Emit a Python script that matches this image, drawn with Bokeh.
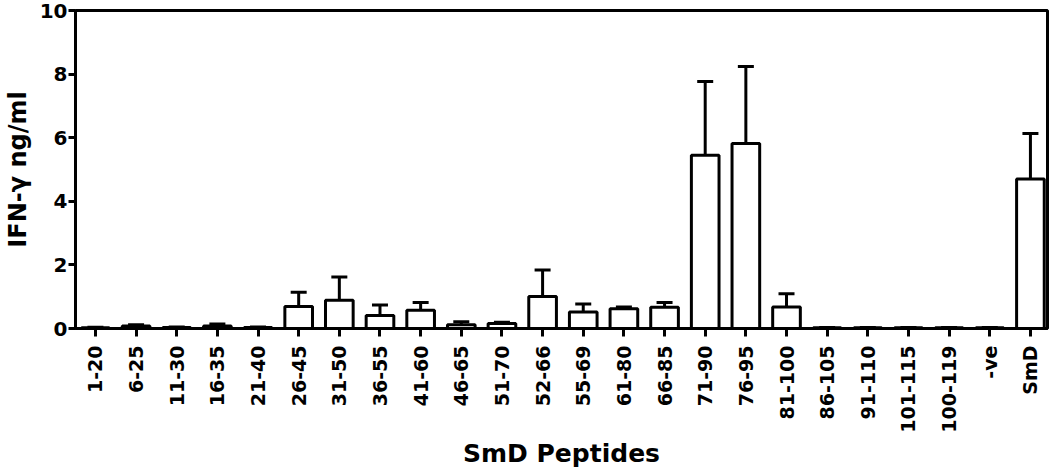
import math
from bokeh.plotting import figure
from bokeh.models import Range1d, FixedTicker, ColumnDataSource, Whisker, TeeHead
from bokeh.embed import file_html
from bokeh.resources import INLINE

categories = ["1-20", "6-25", "11-30", "16-35", "21-40", "26-45", "31-50", "36-55",
              "41-60", "46-65", "51-70", "52-66", "55-69", "61-80", "66-85", "71-90",
              "76-95", "81-100", "86-105", "91-110", "101-115", "100-119", "-ve", "SmD"]
means = [0.02, 0.08, 0.03, 0.08, 0.03, 0.69, 0.89, 0.41, 0.57, 0.12, 0.16, 1.01,
         0.52, 0.62, 0.67, 5.45, 5.82, 0.68, 0.02, 0.02, 0.02, 0.02, 0.02, 4.70]
errors = [0.02, 0.04, 0.02, 0.06, 0.02, 0.45, 0.73, 0.33, 0.25, 0.09, 0.04, 0.83,
          0.25, 0.06, 0.15, 2.32, 2.42, 0.41, 0.01, 0.01, 0.01, 0.01, 0.01, 1.43]
y_ticks = [0, 2, 4, 6, 8, 10]

FONT = "DejaVu Sans"

xs = list(range(len(categories)))
src = ColumnDataSource(dict(
    x=xs, top=means, upper=[m + e for m, e in zip(means, errors)], cat=categories))

p = figure(width=1050, height=470, output_backend="svg", toolbar_location=None,
           title=None,
           x_range=Range1d(-0.49, 23.42), y_range=Range1d(0, 10),
           min_border_top=10, min_border_right=3, min_border_left=0, min_border_bottom=0)

p.background_fill_color = "white"
p.border_fill_color = "white"
p.outline_line_color = "black"
p.outline_line_width = 3
p.outline_line_alpha = 1
p.xgrid.visible = False
p.ygrid.visible = False

wh = Whisker(source=src, base="x", lower="top", upper="upper",
             line_color="black", line_width=3,
             upper_head=TeeHead(size=16, line_color="black", line_width=3),
             lower_head=None)
p.add_layout(wh)

p.vbar(x="x", top="top", bottom=0, width=0.68, source=src,
       fill_color="white", line_color="black", line_width=3)

# y axis
ya = p.yaxis[0]
ya.ticker = FixedTicker(ticks=y_ticks)
ya.axis_line_width = 3
ya.major_tick_line_width = 3
ya.major_tick_out = 7
ya.major_tick_in = 0
ya.minor_tick_out = 0
ya.minor_tick_in = 0
ya.major_label_text_font = FONT
ya.major_label_text_font_style = "bold"
ya.major_label_text_font_size = "20px"
ya.major_label_text_color = "black"
ya.major_label_standoff = 1
ya.axis_label = "IFN-\u03b3 ng/ml"
ya.axis_label_text_font = FONT
ya.axis_label_text_font_style = "bold"
ya.axis_label_text_font_size = "24px"
ya.axis_label_text_color = "black"
ya.axis_label_standoff = 5

# x axis
xa = p.xaxis[0]
xa.ticker = FixedTicker(ticks=xs)
xa.major_label_overrides = {i: c for i, c in enumerate(categories)}
xa.major_label_orientation = math.pi / 2
xa.axis_line_width = 3
xa.major_tick_line_width = 3
xa.major_tick_out = 8
xa.major_tick_in = 0
xa.minor_tick_out = 0
xa.minor_tick_in = 0
xa.major_label_text_font = FONT
xa.major_label_text_font_style = "bold"
xa.major_label_text_font_size = "19px"
xa.major_label_text_color = "black"
xa.major_label_standoff = 9
xa.axis_label = "SmD Peptides"
xa.axis_label_text_font = FONT
xa.axis_label_text_font_style = "bold"
xa.axis_label_text_font_size = "25px"
xa.axis_label_text_color = "black"
xa.axis_label_standoff = 3

open("out.html", "w").write(file_html(p, INLINE))
